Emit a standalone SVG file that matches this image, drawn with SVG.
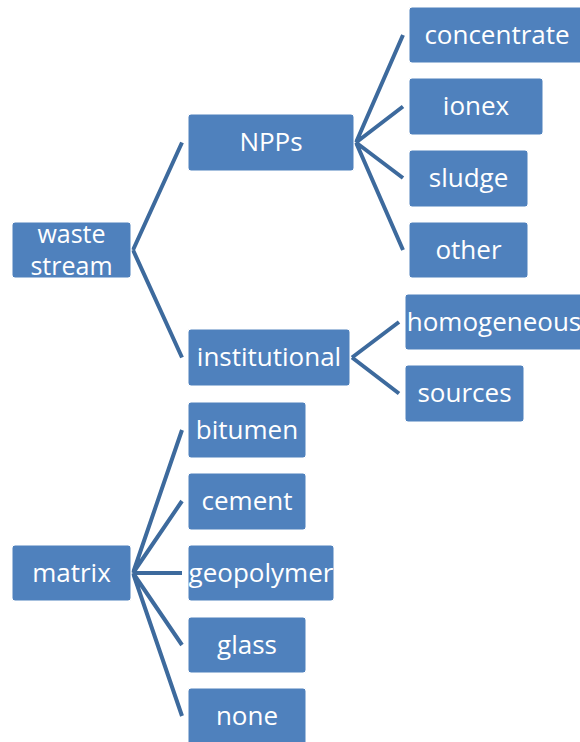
<svg xmlns="http://www.w3.org/2000/svg" width="580" height="742" viewBox="0 0 580 742">
<style>
.box{fill:#4F81BD;stroke:#ffffff;stroke-width:1}
.lbl{fill:#ffffff;font-family:"Open Sans","Noto Sans","DejaVu Sans",sans-serif;font-size:26px;text-anchor:middle}
.sm{font-size:25px}
.con{stroke:#3D6A9D;stroke-width:4;fill:none;stroke-linecap:butt;stroke-linejoin:miter}
</style>
<rect width="580" height="742" fill="#ffffff"/>
<g id="connectors">
<path class="con" d="M133,250 L182,142.5 M133,250 L182,357.5"/>
<path class="con" d="M356,142.5 L403,35 M356,142.5 L403,106.5 M356,142.5 L403,178 M356,142.5 L403,250"/>
<path class="con" d="M352,357.5 L399,322 M352,357.5 L399,393.5"/>
<path class="con" d="M133,573 L182,430 M133,573 L182,501 M133,573 L182,573 M133,573 L182,645 M133,573 L182,716"/>
</g>
<g id="waste-stream"><rect class="box" x="12" y="222" width="119" height="56" rx="3"/><text class="lbl sm" x="71.5" y="243">waste</text><text class="lbl sm" x="71.5" y="274.5">stream</text></g>
<g id="npps"><rect class="box" x="188" y="114" width="166" height="57" rx="3"/><text class="lbl" x="271" y="151">NPPs</text></g>
<g id="institutional"><rect class="box" x="188" y="329" width="162" height="57" rx="3"/><text class="lbl" x="269" y="366">institutional</text></g>
<g id="concentrate"><rect class="box" x="409" y="7" width="176" height="56" rx="3"/><text class="lbl" x="497" y="43.5">concentrate</text></g>
<g id="ionex"><rect class="box" x="409" y="78" width="134" height="57" rx="3"/><text class="lbl" x="476" y="115">ionex</text></g>
<g id="sludge"><rect class="box" x="409" y="150" width="119" height="57" rx="3"/><text class="lbl" x="468.5" y="187">sludge</text></g>
<g id="other"><rect class="box" x="409" y="222" width="119" height="56" rx="3"/><text class="lbl" x="468.5" y="258.5">other</text></g>
<g id="homogeneous"><rect class="box" x="405" y="294" width="180" height="56" rx="3"/><text class="lbl" x="494" y="330.5">homogeneous</text></g>
<g id="sources"><rect class="box" x="405" y="365" width="119" height="57" rx="3"/><text class="lbl" x="464.5" y="402">sources</text></g>
<g id="matrix"><rect class="box" x="12" y="545" width="119" height="56" rx="3"/><text class="lbl" x="71.5" y="581.5">matrix</text></g>
<g id="bitumen"><rect class="box" x="188" y="402" width="118" height="56" rx="3"/><text class="lbl" x="247" y="438.5">bitumen</text></g>
<g id="cement"><rect class="box" x="188" y="473" width="118" height="57" rx="3"/><text class="lbl" x="247" y="510">cement</text></g>
<g id="geopolymer"><rect class="box" x="188" y="545" width="146" height="56" rx="3"/><text class="lbl" x="261" y="581.5">geopolymer</text></g>
<g id="glass"><rect class="box" x="188" y="617" width="118" height="56" rx="3"/><text class="lbl" x="247" y="653.5">glass</text></g>
<g id="none"><rect class="box" x="188" y="688" width="118" height="57" rx="3"/><text class="lbl" x="247" y="725">none</text></g>
</svg>
